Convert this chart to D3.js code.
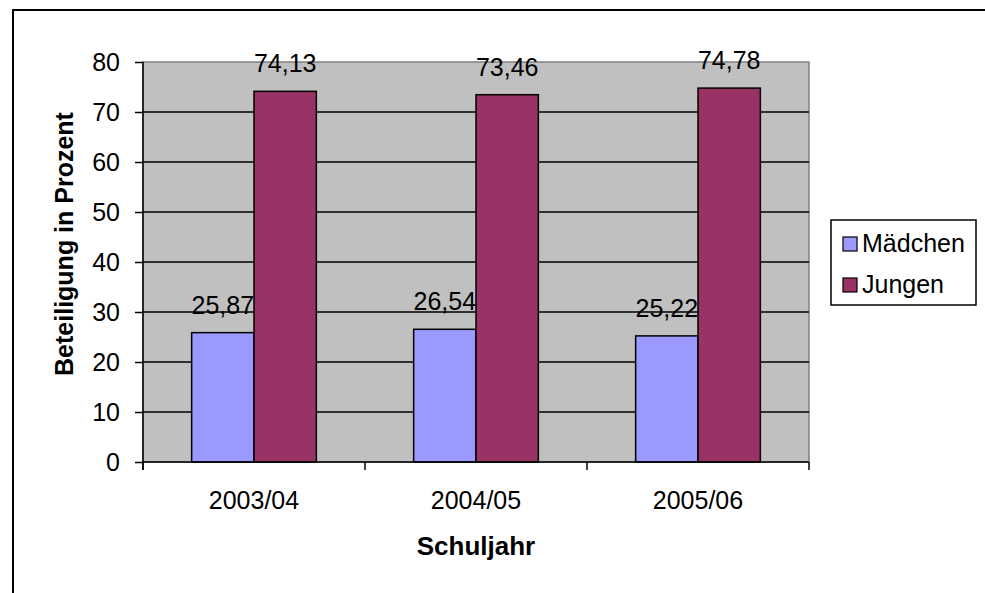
<!DOCTYPE html>
<html>
<head>
<meta charset="utf-8">
<script src="https://cdn.jsdelivr.net/npm/d3@7"></script>
<style>
  html, body { margin: 0; padding: 0; background: #fff; }
  svg { display: block; }
  text { font-family: "Liberation Sans", Arial, sans-serif; fill: #000; }
</style>
</head>
<body>
<svg id="chart" width="985" height="593"></svg>
<script>
// Schuljahre und Beteiligung (Prozent) nach Geschlecht
const categories = ["2003/04", "2004/05", "2005/06"];
const seriesNames = ["Mädchen", "Jungen"];
const maedchen = [25.87, 26.54, 25.22];
const jungen = [74.13, 73.46, 74.78];
const yTicks = [0, 10, 20, 30, 40, 50, 60, 70, 80];
const colors = ["#9999FF", "#993366"];

const seriesValues = [maedchen, jungen];
const fmt = v => d3.format(".2f")(v).replace(".", ",");

const svg = d3.select("#chart");

// Rahmen des Diagrammbereichs
svg.append("rect")
  .attr("x", 13).attr("y", 10)
  .attr("width", 1000).attr("height", 620)
  .attr("fill", "#fff").attr("stroke", "#000").attr("stroke-width", 2);

const plot = { left: 143, right: 809, top: 62, bottom: 462 };

const y = d3.scaleLinear().domain([0, 80]).range([plot.bottom, plot.top]);
const x = d3.scaleBand().domain(categories).range([plot.left, plot.right]).padding(0);
const xs = d3.scaleBand().domain(seriesNames).range([0, x.bandwidth()])
  .paddingInner(0).paddingOuter(0.78);

// Zeichenfläche
svg.append("rect")
  .attr("x", plot.left).attr("y", plot.top)
  .attr("width", plot.right - plot.left).attr("height", plot.bottom - plot.top)
  .attr("fill", "#C0C0C0").attr("stroke", "#808080").attr("stroke-width", 1.5);

// Gitternetzlinien
svg.append("g").selectAll("line")
  .data(yTicks.filter(t => t > 0 && t < 80))
  .join("line")
  .attr("x1", plot.left).attr("x2", plot.right)
  .attr("y1", d => y(d)).attr("y2", d => y(d))
  .attr("stroke", "#000").attr("stroke-width", 1.3);

// Säulen
const rows = categories.map((c, i) => seriesNames.map((s, j) => ({ c, s, j, v: seriesValues[j][i] })));
const groups = svg.append("g").selectAll("g")
  .data(rows).join("g")
  .attr("transform", (d, i) => `translate(${x(categories[i])},0)`);

groups.selectAll("rect")
  .data(d => d).join("rect")
  .attr("x", d => xs(d.s))
  .attr("y", d => y(d.v))
  .attr("width", xs.bandwidth())
  .attr("height", d => y(0) - y(d.v))
  .attr("fill", d => colors[d.j])
  .attr("stroke", "#000").attr("stroke-width", 1.5);

// Datenbeschriftungen
groups.selectAll("text")
  .data(d => d).join("text")
  .attr("x", d => xs(d.s) + xs.bandwidth() / 2)
  .attr("y", d => y(d.v) - 19)
  .attr("text-anchor", "middle")
  .attr("font-size", 25)
  .text(d => fmt(d.v));

// Y-Achse
const yAxis = d3.axisLeft(y).tickValues(yTicks).tickSize(8).tickSizeOuter(0).tickPadding(15);
const gy = svg.append("g").attr("transform", `translate(${plot.left},0)`).call(yAxis);
gy.select(".domain").remove();
gy.selectAll(".tick line").attr("stroke", "#000").attr("stroke-width", 1.5);
gy.selectAll(".tick text").attr("font-size", 25).attr("font-family", "Liberation Sans, Arial, sans-serif").attr("fill", "#000");
svg.append("line")
  .attr("x1", plot.left).attr("x2", plot.left)
  .attr("y1", plot.top).attr("y2", plot.bottom + 8)
  .attr("stroke", "#000").attr("stroke-width", 1.5);

// X-Achse
const xAxis = d3.axisBottom(x).tickSize(0).tickPadding(29);
const gx = svg.append("g").attr("transform", `translate(0,${plot.bottom})`).call(xAxis);
gx.select(".domain").remove();
gx.selectAll(".tick text").attr("font-size", 25).attr("font-family", "Liberation Sans, Arial, sans-serif").attr("fill", "#000");
svg.append("line")
  .attr("x1", plot.left).attr("x2", plot.right)
  .attr("y1", plot.bottom).attr("y2", plot.bottom)
  .attr("stroke", "#000").attr("stroke-width", 1.5);
svg.append("g").selectAll("line")
  .data(categories.map(c => x(c)).concat([x.range()[1]]))
  .join("line")
  .attr("x1", d => d).attr("x2", d => d)
  .attr("y1", plot.bottom).attr("y2", plot.bottom + 8)
  .attr("stroke", "#000").attr("stroke-width", 1.5);

// Achsentitel
svg.append("text")
  .attr("x", (plot.left + plot.right) / 2).attr("y", 555)
  .attr("text-anchor", "middle")
  .attr("font-size", 26).attr("font-weight", "bold")
  .text("Schuljahr");

svg.append("text")
  .attr("transform", "translate(73,244) rotate(-90)")
  .attr("text-anchor", "middle")
  .attr("font-size", 25).attr("font-weight", "bold")
  .text("Beteiligung in Prozent");

// Legende
const legend = svg.append("g");
legend.append("rect")
  .attr("x", 831).attr("y", 220).attr("width", 145).attr("height", 85)
  .attr("fill", "#fff").attr("stroke", "#000").attr("stroke-width", 1.5);
const items = legend.selectAll("g.item")
  .data(seriesNames).join("g")
  .attr("class", "item")
  .attr("transform", (d, i) => `translate(0,${i * 41})`);
items.append("rect")
  .attr("x", 843).attr("y", 237).attr("width", 14).attr("height", 14)
  .attr("fill", (d, i) => colors[i]).attr("stroke", "#000").attr("stroke-width", 1.2);
items.append("text")
  .attr("x", 862).attr("y", 252)
  .attr("font-size", 25)
  .text(d => d);
</script>
</body>
</html>
